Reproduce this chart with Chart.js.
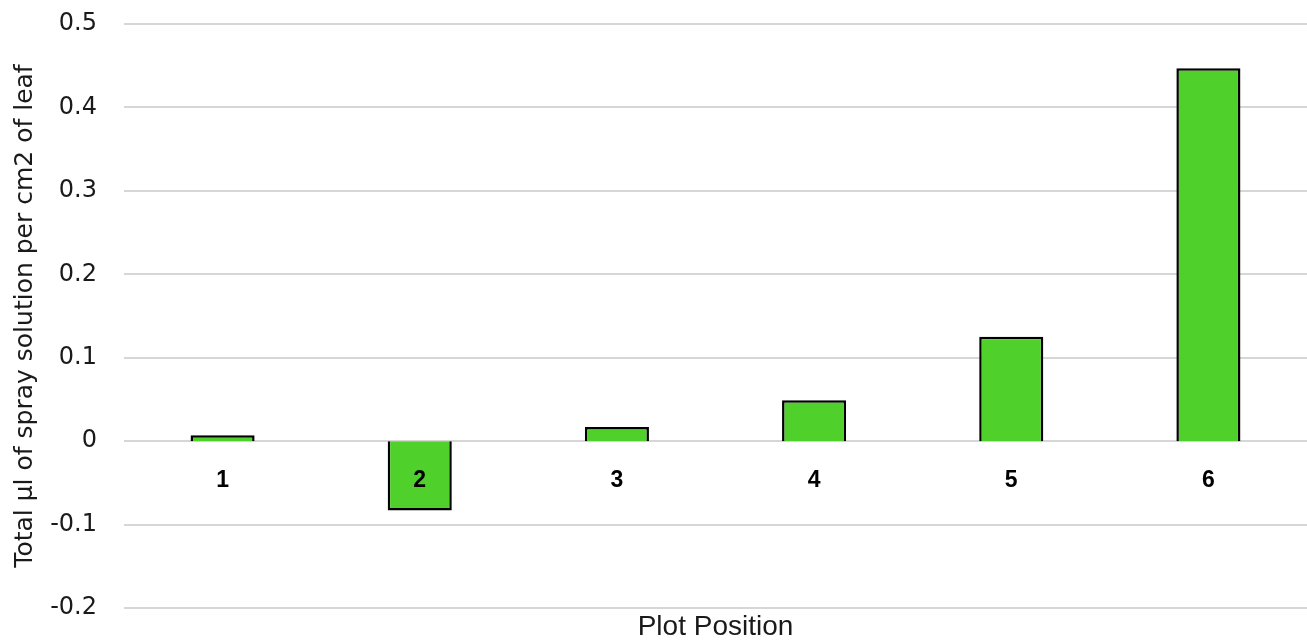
<!DOCTYPE html>
<html>
<head>
<meta charset="utf-8">
<script src="https://cdn.jsdelivr.net/npm/chart.js@4.4.1/dist/chart.umd.min.js"></script>
<style>
  html, body { margin: 0; padding: 0; background: #fff; }
  #wrap { width: 1307px; height: 644px; }
</style>
</head>
<body>
<div id="wrap"><canvas id="chart"></canvas></div>
<script>
// ===== Data =====
const plotPositions = ["1", "2", "3", "4", "5", "6"];
const sprayPerCm2 = [0.007, -0.083, 0.017, 0.049, 0.125, 0.447];
const yMin = -0.2;
const yMax = 0.5;
const yStep = 0.1;

const tickFont = "'DejaVu Sans', 'Liberation Sans', sans-serif";

// ===== Category labels just under the zero line, on top of the bars =====
const zeroLineLabels = {
  id: "zeroLineLabels",
  afterDatasetsDraw(chart) {
    const { ctx, scales: { x, y } } = chart;
    const y0 = y.getPixelForValue(0);
    ctx.save();
    ctx.font = "bold 23px 'Liberation Sans', sans-serif";
    ctx.fillStyle = "#000";
    ctx.textAlign = "center";
    ctx.textBaseline = "middle";
    plotPositions.forEach((label, i) => {
      ctx.fillText(label, x.getPixelForValue(i), y0 + 40);
    });
    ctx.restore();
  }
};

// ===== Render =====
const ctx = document.getElementById("chart").getContext("2d");
new Chart(ctx, {
  type: "bar",
  data: {
    labels: plotPositions,
    datasets: [{
      data: sprayPerCm2,
      backgroundColor: "#50d02a",
      borderColor: "#000",
      borderWidth: 2.5,
      barPercentage: 0.325,
      categoryPercentage: 1
    }]
  },
  plugins: [zeroLineLabels],
  options: {
    responsive: true,
    maintainAspectRatio: false,
    animation: false,
    layout: { padding: { top: 24, left: 10, right: 0, bottom: 0 } },
    plugins: {
      legend: { display: false },
      tooltip: { enabled: false }
    },
    scales: {
      x: {
        afterFit: (scale) => { scale.height = 36; },
        grid: { display: false, drawTicks: false },
        border: { display: false },
        ticks: { display: false },
        title: {
          display: true,
          text: "Plot Position",
          color: "#1a1a1a",
          font: { family: "'Liberation Sans', sans-serif", size: 28, lineHeight: 1.2 },
          padding: { top: 2, bottom: 0 }
        }
      },
      y: {
        min: yMin,
        max: yMax,
        afterFit: (scale) => { scale.width = 114; },
        ticks: {
          stepSize: yStep,
          padding: 3,
          color: "#1a1a1a",
          font: { family: tickFont, size: 24 },
          callback: (v) => Math.round(v * 10) / 10
        },
        // invisible tick marks keep the labels clear of the plot area
        grid: { color: "#d6d6d6", lineWidth: 2, drawTicks: true, tickLength: 24, tickColor: "rgba(0,0,0,0)" },
        border: { display: false },
        title: {
          display: true,
          text: "Total µl of spray solution per cm2 of leaf",
          color: "#1a1a1a",
          font: { family: tickFont, size: 25 },
          padding: { top: 0, bottom: 4 }
        }
      }
    }
  }
});
</script>
</body>
</html>
